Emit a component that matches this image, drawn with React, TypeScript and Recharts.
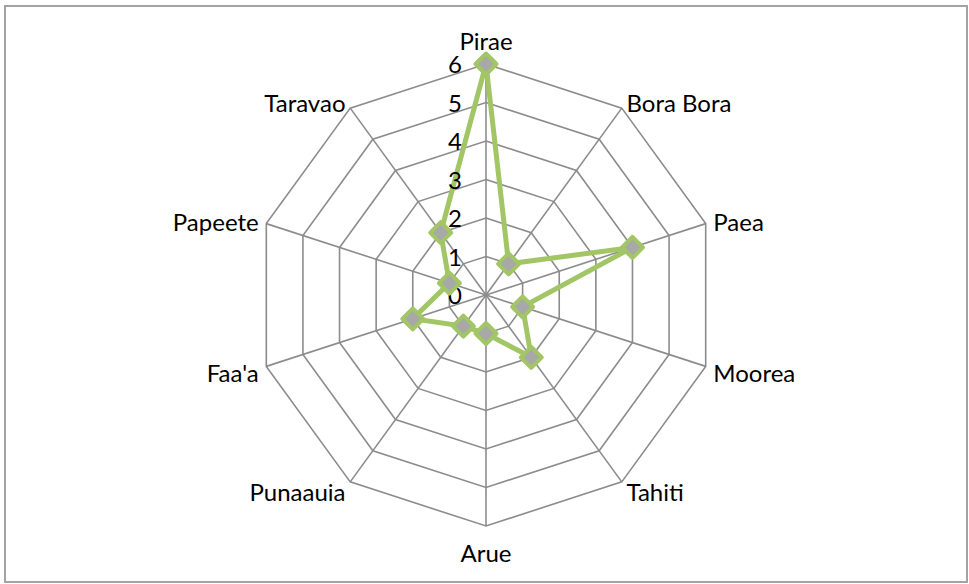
import React from 'react';
import { RadarChart, Radar, PolarGrid, PolarAngleAxis, PolarRadiusAxis } from 'recharts';

const islands = ['Pirae', 'Bora Bora', 'Paea', 'Moorea', 'Tahiti', 'Arue', 'Punaauia', "Faa'a", 'Papeete', 'Taravao'];
const counts = [6, 1, 4, 1, 2, 1, 1, 2, 1, 2];
const radiusTicks = [0, 1, 2, 3, 4, 5, 6];

const data = islands.map((name, i) => ({ name, value: counts[i] }));

const CX = 486;
const CY = 295;
const R = 231;
const FONT = 'Lato, "Liberation Sans", sans-serif';

// category labels placed around the outer polygon
const AngleTick = (props: any) => {
  const angle = (props.payload.coordinate * Math.PI) / 180;
  const cos = Math.cos(angle);
  const sin = Math.sin(angle);
  const r = R + 8;
  let x = CX + r * cos;
  let y = CY - r * sin;
  let anchor: 'start' | 'end' | 'middle' = cos > 0 ? 'start' : 'end';
  if (Math.abs(cos) < 0.1) {
    anchor = 'middle';
    y = sin > 0 ? 50 : 562;
  } else {
    y += sin > 0 ? 10 : 13;
  }
  return (
    <text x={x} y={y} textAnchor={anchor} fontSize={24} fontFamily={FONT} fill="#000">
      {props.payload.value}
    </text>
  );
};

const RadiusTick = (props: any) => (
  <text x={props.x - 24} y={props.y + 9} textAnchor="end" fontSize={24} fontFamily={FONT} fill="#000">
    {props.payload.value}
  </text>
);

const Diamond = (props: any) => {
  const { cx, cy } = props;
  const h = 10.5;
  return (
    <polygon
      points={`${cx},${cy - h} ${cx + h},${cy} ${cx},${cy + h} ${cx - h},${cy}`}
      fill="#a8a8a8"
      stroke="#a2c566"
      strokeWidth={4}
      strokeLinejoin="round"
    />
  );
};

export default function App() {
  return (
    <div style={{ position: 'absolute', left: 0, top: 0, width: 969, height: 584, background: '#fff' }}>
      <div
        style={{
          position: 'absolute',
          left: 4,
          top: 5,
          width: 960,
          height: 574,
          border: '2px solid #a3a3a3',
        }}
      />
      <RadarChart
        width={969}
        height={584}
        data={data}
        cx={CX}
        cy={CY}
        outerRadius={R}
        startAngle={90}
        endAngle={-270}
        style={{ position: 'absolute', left: 0, top: 0 }}
      >
        <PolarGrid gridType="polygon" stroke="#8c8c8c" strokeWidth={1.6} />
        <PolarAngleAxis dataKey="name" tick={AngleTick} tickLine={false} axisLine={false} />
        <PolarRadiusAxis
          angle={90}
          domain={[0, 6]}
          ticks={radiusTicks}
          tickCount={7}
          tick={RadiusTick}
          axisLine={false}
          tickLine={false}
        />
        <Radar
          dataKey="value"
          stroke="#a2c566"
          strokeWidth={5}
          fill="none"
          fillOpacity={0}
          dot={Diamond}
          isAnimationActive={false}
        />
      </RadarChart>
    </div>
  );
}
